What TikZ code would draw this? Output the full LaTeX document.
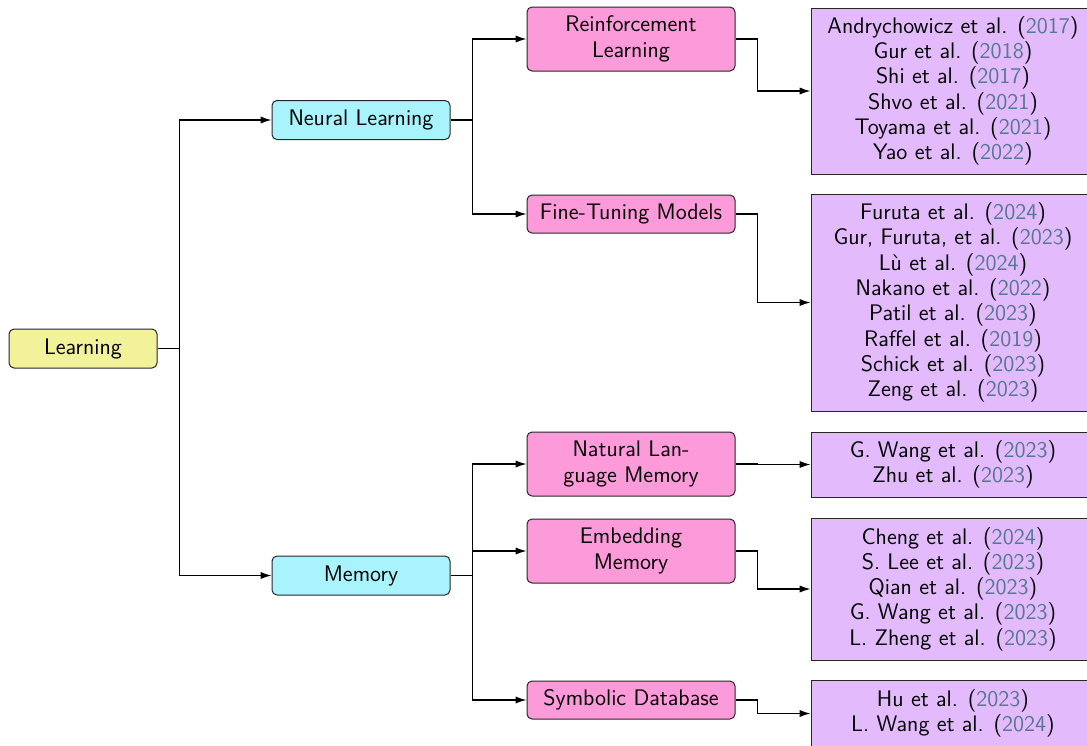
\documentclass[tikz,border=0pt]{standalone}
\usetikzlibrary{arrows.meta}
\definecolor{learnfill}{HTML}{F2F29B}
\definecolor{neurfill}{HTML}{A9F3FD}
\definecolor{pinkfill}{HTML}{FC9ADA}
\definecolor{leaffill}{HTML}{E3BBFD}
\definecolor{yearblue}{HTML}{587890}
\newcommand{\citeyr}[1]{(\textcolor{yearblue}{#1})}
\begin{document}
\begin{tikzpicture}[x=0.5pt,y=-0.5pt,
  every node/.style={font=\sffamily\fontsize{11.25pt}{12.65pt}\selectfont, align=center, inner sep=2pt, line width=0.5pt, draw=black!85},
  topbox/.style={rounded corners=2.5pt, fill=learnfill, minimum width=74pt, minimum height=19.5pt},
  midbox/.style={rounded corners=2.5pt, fill=neurfill, minimum width=89pt, minimum height=19.5pt},
  subbox/.style={rounded corners=2.5pt, fill=pinkfill, minimum width=104pt, minimum height=#1},
  subbox/.default=19pt,
  leafbox/.style={fill=leaffill, minimum width=142pt, minimum height=#1},
  conn/.style={draw=black, line width=0.55pt, -{Latex[length=5.5pt,width=3.6pt]}}
]
\useasboundingbox (0,0) rectangle (1087,745);

% root and first level
\node[topbox] (learn) at (83,348.5) {Learning};
\node[midbox] (neural) at (361,120) {Neural Learning};
\node[midbox] (memory) at (361,575.5) {Memory};

% second level
\node[subbox=32pt] (rl) at (631,39) {Reinforcement\\Learning};
\node[subbox] (ft) at (631,214) {Fine-Tuning Models};
\node[subbox=32pt] (nlm) at (631,464) {Natural Lan-\\guage Memory};
\node[subbox=32pt] (emb) at (631,551) {Embedding\\Memory};
\node[subbox] (sym) at (631,700) {Symbolic Database};

% reference lists
\node[leafbox=83pt] (l1) at (953,91) {Andrychowicz et al. \citeyr{2017}\\Gur et al. \citeyr{2018}\\Shi et al. \citeyr{2017}\\Shvo et al. \citeyr{2021}\\Toyama et al. \citeyr{2021}\\Yao et al. \citeyr{2022}};
\node[leafbox=108.5pt] (l2) at (953,302.5) {Furuta et al. \citeyr{2024}\\Gur, Furuta, et al. \citeyr{2023}\\Lù et al. \citeyr{2024}\\Nakano et al. \citeyr{2022}\\Patil et al. \citeyr{2023}\\Raffel et al. \citeyr{2019}\\Schick et al. \citeyr{2023}\\Zeng et al. \citeyr{2023}};
\node[leafbox=32.5pt] (l3) at (953,464.5) {G. Wang et al. \citeyr{2023}\\Zhu et al. \citeyr{2023}};
\node[leafbox=71pt] (l4) at (953,589) {Cheng et al. \citeyr{2024}\\S. Lee et al. \citeyr{2023}\\Qian et al. \citeyr{2023}\\G. Wang et al. \citeyr{2023}\\L. Zheng et al. \citeyr{2023}};
\node[leafbox=33pt] (l5) at (953,713.5) {Hu et al. \citeyr{2023}\\L. Wang et al. \citeyr{2024}};

% connectors
\draw[conn] (learn.east) -- ++(22,0) |- (neural.west);
\draw[conn] (learn.east) -- ++(22,0) |- (memory.west);
\draw[conn] (neural.east) -- ++(22,0) |- (rl.west);
\draw[conn] (neural.east) -- ++(22,0) |- (ft.west);
\draw[conn] (memory.east) -- ++(22,0) |- (nlm.west);
\draw[conn] (memory.east) -- ++(22,0) |- (emb.west);
\draw[conn] (memory.east) -- ++(22,0) |- (sym.west);
\draw[conn] (rl.east) -- ++(22,0) |- (l1.west);
\draw[conn] (ft.east) -- ++(22,0) |- (l2.west);
\draw[conn] (nlm.east) -- ++(22,0) |- (l3.west);
\draw[conn] (emb.east) -- ++(22,0) |- (l4.west);
\draw[conn] (sym.east) -- ++(22,0) |- (l5.west);
\end{tikzpicture}
\end{document}
